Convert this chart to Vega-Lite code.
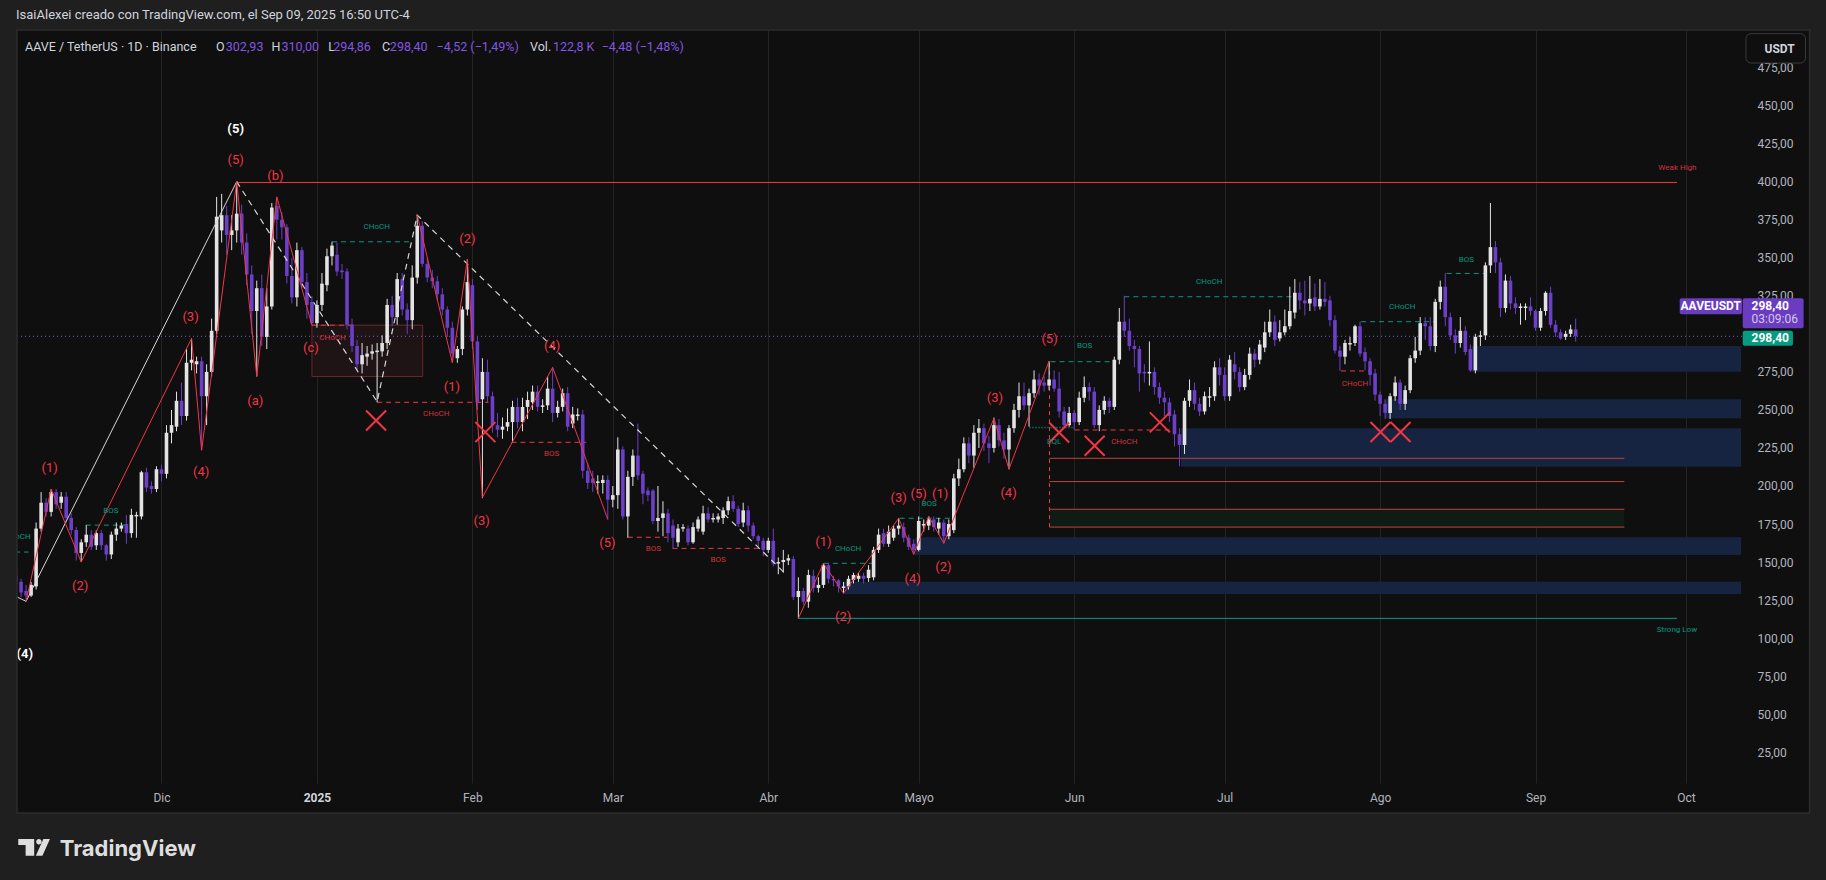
{
  "$schema": "https://vega.github.io/schema/vega-lite/v6.json",
  "width": 1734,
  "height": 753,
  "autosize": {"type": "none"},
  "padding": {"left": 12, "top": 30, "right": 80, "bottom": 97},
  "background": "#0f0f0f",
  "config": {"view": {"stroke": null}, "text": {"font": "Roboto"}},
  "datasets": {
    "candles": [
      {"date":"2024-11-02","open":141,"high":143,"low":135,"close":137},
      {"date":"2024-11-03","open":137,"high":139,"low":127,"close":130},
      {"date":"2024-11-04","open":131,"high":135,"low":124,"close":128},
      {"date":"2024-11-05","open":128,"high":137,"low":127,"close":135},
      {"date":"2024-11-06","open":134,"high":176,"low":132,"close":172},
      {"date":"2024-11-07","open":172,"high":196,"low":170,"close":189},
      {"date":"2024-11-08","open":189,"high":192,"low":180,"close":183},
      {"date":"2024-11-09","open":183,"high":198,"low":180,"close":196},
      {"date":"2024-11-10","open":196,"high":198,"low":185,"close":188},
      {"date":"2024-11-11","open":189,"high":196,"low":185,"close":193},
      {"date":"2024-11-12","open":193,"high":196,"low":176,"close":179},
      {"date":"2024-11-13","open":179,"high":182,"low":168,"close":171},
      {"date":"2024-11-14","open":171,"high":173,"low":151,"close":156},
      {"date":"2024-11-15","open":156,"high":165,"low":150,"close":163},
      {"date":"2024-11-16","open":163,"high":174.3,"low":160,"close":168},
      {"date":"2024-11-17","open":168,"high":171,"low":158,"close":160},
      {"date":"2024-11-18","open":161,"high":171,"low":158,"close":169},
      {"date":"2024-11-19","open":169,"high":171,"low":158,"close":161},
      {"date":"2024-11-20","open":161,"high":162,"low":151,"close":155},
      {"date":"2024-11-21","open":155,"high":170,"low":152,"close":168},
      {"date":"2024-11-22","open":168,"high":176,"low":164,"close":172},
      {"date":"2024-11-23","open":172,"high":176,"low":170,"close":174},
      {"date":"2024-11-24","open":175,"high":181,"low":162,"close":169},
      {"date":"2024-11-25","open":169,"high":185,"low":166,"close":181},
      {"date":"2024-11-26","open":180,"high":183,"low":166,"close":181},
      {"date":"2024-11-27","open":180,"high":210,"low":178,"close":209},
      {"date":"2024-11-28","open":209,"high":212,"low":196,"close":199},
      {"date":"2024-11-29","open":200,"high":203,"low":195,"close":198},
      {"date":"2024-11-30","open":198,"high":213,"low":196,"close":211},
      {"date":"2024-12-01","open":211,"high":214,"low":203,"close":208},
      {"date":"2024-12-02","open":208,"high":240,"low":205,"close":235},
      {"date":"2024-12-03","open":235,"high":250,"low":228,"close":240},
      {"date":"2024-12-04","open":239,"high":262,"low":236,"close":256},
      {"date":"2024-12-05","open":256,"high":268,"low":240,"close":246},
      {"date":"2024-12-06","open":246,"high":290,"low":243,"close":281},
      {"date":"2024-12-07","open":281,"high":297,"low":276,"close":283},
      {"date":"2024-12-08","open":280,"high":285,"low":274,"close":282},
      {"date":"2024-12-09","open":282,"high":285,"low":223.5,"close":259},
      {"date":"2024-12-10","open":259,"high":280,"low":240,"close":275},
      {"date":"2024-12-11","open":275,"high":310,"low":272,"close":302},
      {"date":"2024-12-12","open":302,"high":390,"low":300,"close":377},
      {"date":"2024-12-13","open":368,"high":392,"low":360,"close":378},
      {"date":"2024-12-14","open":378,"high":384,"low":352,"close":365},
      {"date":"2024-12-15","open":365,"high":378,"low":355,"close":368},
      {"date":"2024-12-16","open":368,"high":400,"low":360,"close":379},
      {"date":"2024-12-17","open":379,"high":385,"low":352,"close":360},
      {"date":"2024-12-18","open":360,"high":366,"low":332,"close":339},
      {"date":"2024-12-19","open":339,"high":345,"low":300,"close":315},
      {"date":"2024-12-20","open":315,"high":335,"low":272,"close":330},
      {"date":"2024-12-21","open":330,"high":339,"low":292,"close":298},
      {"date":"2024-12-22","open":298,"high":330,"low":290,"close":318},
      {"date":"2024-12-23","open":318,"high":386,"low":316,"close":383},
      {"date":"2024-12-24","open":384,"high":390,"low":362,"close":375},
      {"date":"2024-12-25","open":375,"high":380,"low":362,"close":370},
      {"date":"2024-12-26","open":370,"high":372,"low":333,"close":338},
      {"date":"2024-12-27","open":338,"high":350,"low":320,"close":324},
      {"date":"2024-12-28","open":324,"high":360,"low":318,"close":355},
      {"date":"2024-12-29","open":355,"high":357,"low":330,"close":334},
      {"date":"2024-12-30","open":334,"high":340,"low":310,"close":319},
      {"date":"2024-12-31","open":321,"high":325,"low":305.7,"close":307},
      {"date":"2025-01-01","open":307,"high":322,"low":304,"close":319},
      {"date":"2025-01-02","open":319,"high":340,"low":315,"close":333},
      {"date":"2025-01-03","open":332,"high":356,"low":328,"close":351},
      {"date":"2025-01-04","open":351,"high":360.5,"low":345,"close":358},
      {"date":"2025-01-05","open":352,"high":360,"low":338,"close":341},
      {"date":"2025-01-06","open":341.6,"high":346,"low":336,"close":340.5},
      {"date":"2025-01-07","open":341,"high":343,"low":303,"close":306},
      {"date":"2025-01-08","open":306,"high":310,"low":288,"close":292},
      {"date":"2025-01-09","open":292,"high":296,"low":276,"close":280},
      {"date":"2025-01-10","open":280,"high":294,"low":274,"close":286},
      {"date":"2025-01-11","open":285,"high":292,"low":279,"close":287},
      {"date":"2025-01-12","open":287,"high":293,"low":283,"close":288.5},
      {"date":"2025-01-13","open":288,"high":294,"low":255,"close":289},
      {"date":"2025-01-14","open":288.5,"high":299,"low":285,"close":294},
      {"date":"2025-01-15","open":294,"high":323,"low":290,"close":319},
      {"date":"2025-01-16","open":319,"high":325,"low":305,"close":311},
      {"date":"2025-01-17","open":311,"high":340,"low":306,"close":336},
      {"date":"2025-01-18","open":336,"high":340,"low":312,"close":316},
      {"date":"2025-01-19","open":316,"high":320,"low":300,"close":309},
      {"date":"2025-01-20","open":309,"high":345,"low":303,"close":337},
      {"date":"2025-01-21","open":337,"high":378,"low":333,"close":371},
      {"date":"2025-01-22","open":371,"high":374,"low":344,"close":346},
      {"date":"2025-01-23","open":346,"high":350,"low":334,"close":337},
      {"date":"2025-01-24","open":337,"high":342,"low":330,"close":334.5},
      {"date":"2025-01-25","open":334.5,"high":338,"low":322,"close":326},
      {"date":"2025-01-26","open":326,"high":330,"low":312,"close":316},
      {"date":"2025-01-27","open":316,"high":318,"low":298,"close":304},
      {"date":"2025-01-28","open":304,"high":308,"low":281,"close":287},
      {"date":"2025-01-29","open":284,"high":292,"low":281,"close":290},
      {"date":"2025-01-30","open":290,"high":318,"low":286,"close":316},
      {"date":"2025-01-31","open":316,"high":349,"low":312,"close":334},
      {"date":"2025-02-01","open":332,"high":336,"low":290,"close":295},
      {"date":"2025-02-02","open":295,"high":298,"low":250,"close":255},
      {"date":"2025-02-03","open":257,"high":284,"low":192,"close":275},
      {"date":"2025-02-04","open":275,"high":283,"low":255,"close":259},
      {"date":"2025-02-05","open":259,"high":262,"low":235,"close":240},
      {"date":"2025-02-06","open":240,"high":248,"low":232,"close":237},
      {"date":"2025-02-07","open":237,"high":245,"low":231,"close":239},
      {"date":"2025-02-08","open":239,"high":251,"low":236,"close":242},
      {"date":"2025-02-09","open":242,"high":256,"low":228.7,"close":252},
      {"date":"2025-02-10","open":252,"high":258,"low":238,"close":242},
      {"date":"2025-02-11","open":242,"high":258,"low":236,"close":252},
      {"date":"2025-02-12","open":252,"high":262,"low":244,"close":256.5},
      {"date":"2025-02-13","open":255,"high":266,"low":250,"close":262},
      {"date":"2025-02-14","open":262,"high":266,"low":249,"close":252},
      {"date":"2025-02-15","open":252,"high":257,"low":248,"close":253},
      {"date":"2025-02-16","open":253,"high":272,"low":250,"close":264},
      {"date":"2025-02-17","open":264,"high":278,"low":242,"close":248},
      {"date":"2025-02-18","open":248,"high":256,"low":245,"close":252},
      {"date":"2025-02-19","open":252,"high":264,"low":249,"close":261},
      {"date":"2025-02-20","open":261,"high":265,"low":236,"close":239},
      {"date":"2025-02-21","open":241,"high":252,"low":238,"close":247},
      {"date":"2025-02-22","open":246,"high":251,"low":243,"close":247},
      {"date":"2025-02-23","open":247,"high":250,"low":205,"close":210},
      {"date":"2025-02-24","open":210,"high":215,"low":198,"close":202},
      {"date":"2025-02-25","open":205,"high":210,"low":196,"close":202},
      {"date":"2025-02-26","open":202,"high":207,"low":195,"close":203},
      {"date":"2025-02-27","open":202,"high":207,"low":195,"close":204},
      {"date":"2025-02-28","open":204,"high":207,"low":178,"close":191},
      {"date":"2025-03-01","open":191,"high":200,"low":186,"close":194},
      {"date":"2025-03-02","open":194,"high":232,"low":185,"close":224},
      {"date":"2025-03-03","open":224,"high":226,"low":178,"close":180},
      {"date":"2025-03-04","open":180,"high":210,"low":166,"close":206},
      {"date":"2025-03-05","open":206,"high":224,"low":200,"close":220},
      {"date":"2025-03-06","open":220,"high":241,"low":204,"close":207},
      {"date":"2025-03-07","open":208,"high":210,"low":188,"close":195},
      {"date":"2025-03-08","open":197,"high":199,"low":190,"close":194},
      {"date":"2025-03-09","open":197,"high":198,"low":175,"close":177},
      {"date":"2025-03-10","open":177,"high":200,"low":170,"close":179},
      {"date":"2025-03-11","open":179,"high":190,"low":167,"close":182},
      {"date":"2025-03-12","open":182,"high":185,"low":163,"close":169},
      {"date":"2025-03-13","open":174,"high":178,"low":159,"close":166},
      {"date":"2025-03-14","open":163,"high":175,"low":160,"close":172},
      {"date":"2025-03-15","open":172,"high":175,"low":170,"close":173},
      {"date":"2025-03-16","open":172,"high":174,"low":161,"close":163},
      {"date":"2025-03-17","open":163,"high":176,"low":162,"close":173},
      {"date":"2025-03-18","open":172,"high":180,"low":170,"close":178},
      {"date":"2025-03-19","open":170,"high":187,"low":168,"close":182},
      {"date":"2025-03-20","open":182,"high":186,"low":176,"close":178},
      {"date":"2025-03-21","open":178,"high":182,"low":176,"close":179},
      {"date":"2025-03-22","open":178,"high":182,"low":176,"close":180},
      {"date":"2025-03-23","open":179,"high":186,"low":175,"close":184},
      {"date":"2025-03-24","open":184,"high":193,"low":181,"close":190},
      {"date":"2025-03-25","open":190,"high":194,"low":183,"close":185},
      {"date":"2025-03-26","open":185,"high":187,"low":173,"close":175},
      {"date":"2025-03-27","open":176,"high":189,"low":173,"close":184},
      {"date":"2025-03-28","open":184,"high":187,"low":170,"close":174},
      {"date":"2025-03-29","open":174,"high":176,"low":165,"close":167},
      {"date":"2025-03-30","open":167,"high":168,"low":160,"close":164},
      {"date":"2025-03-31","open":164,"high":166,"low":154,"close":158},
      {"date":"2025-04-01","open":158,"high":166,"low":156,"close":164},
      {"date":"2025-04-02","open":164,"high":172,"low":147,"close":149},
      {"date":"2025-04-03","open":149,"high":153,"low":142,"close":150},
      {"date":"2025-04-04","open":150,"high":158,"low":143,"close":151.4},
      {"date":"2025-04-05","open":151,"high":155,"low":148,"close":152.5},
      {"date":"2025-04-06","open":152,"high":154,"low":125,"close":127},
      {"date":"2025-04-07","open":127,"high":140,"low":113,"close":131},
      {"date":"2025-04-08","open":131,"high":133,"low":122,"close":124},
      {"date":"2025-04-09","open":124,"high":145,"low":120,"close":141.5},
      {"date":"2025-04-10","open":141,"high":145,"low":130,"close":133},
      {"date":"2025-04-11","open":133,"high":140,"low":130,"close":135},
      {"date":"2025-04-12","open":135,"high":149.2,"low":133,"close":148},
      {"date":"2025-04-13","open":148,"high":149,"low":136,"close":139},
      {"date":"2025-04-14","open":139,"high":141,"low":134,"close":138},
      {"date":"2025-04-15","open":138,"high":139,"low":130,"close":134},
      {"date":"2025-04-16","open":133,"high":137,"low":129.5,"close":134},
      {"date":"2025-04-17","open":134,"high":141,"low":132,"close":139},
      {"date":"2025-04-18","open":138.3,"high":143,"low":136,"close":141.5},
      {"date":"2025-04-19","open":139,"high":143,"low":137,"close":141},
      {"date":"2025-04-20","open":141,"high":143,"low":136,"close":139},
      {"date":"2025-04-21","open":139.5,"high":148,"low":137,"close":145},
      {"date":"2025-04-22","open":140,"high":160,"low":138,"close":158},
      {"date":"2025-04-23","open":158,"high":172,"low":156,"close":168},
      {"date":"2025-04-24","open":169,"high":172,"low":160,"close":162},
      {"date":"2025-04-25","open":162,"high":174,"low":160,"close":170},
      {"date":"2025-04-26","open":166,"high":174,"low":164,"close":172},
      {"date":"2025-04-27","open":172,"high":179,"low":168,"close":174},
      {"date":"2025-04-28","open":173,"high":176,"low":163,"close":166},
      {"date":"2025-04-29","open":166,"high":168,"low":158,"close":160},
      {"date":"2025-04-30","open":162,"high":165,"low":155,"close":158},
      {"date":"2025-05-01","open":158,"high":180,"low":157,"close":177},
      {"date":"2025-05-02","open":174,"high":178,"low":170,"close":175},
      {"date":"2025-05-03","open":174,"high":180,"low":171,"close":178},
      {"date":"2025-05-04","open":178,"high":180,"low":170,"close":173},
      {"date":"2025-05-05","open":172,"high":179,"low":168,"close":176},
      {"date":"2025-05-06","open":176,"high":178,"low":162,"close":167},
      {"date":"2025-05-07","open":167,"high":178,"low":165,"close":175},
      {"date":"2025-05-08","open":171,"high":208,"low":169,"close":205},
      {"date":"2025-05-09","open":205,"high":218,"low":200,"close":211},
      {"date":"2025-05-10","open":211,"high":232,"low":209,"close":228},
      {"date":"2025-05-11","open":228,"high":232,"low":215,"close":220},
      {"date":"2025-05-12","open":220,"high":240,"low":212,"close":235},
      {"date":"2025-05-13","open":235,"high":244,"low":225,"close":238},
      {"date":"2025-05-14","open":238,"high":241,"low":223,"close":228},
      {"date":"2025-05-15","open":228,"high":233,"low":215,"close":225},
      {"date":"2025-05-16","open":225,"high":245,"low":222,"close":240},
      {"date":"2025-05-17","open":240,"high":244,"low":226,"close":230},
      {"date":"2025-05-18","open":230,"high":235,"low":218,"close":224},
      {"date":"2025-05-19","open":224,"high":240,"low":211,"close":238},
      {"date":"2025-05-20","open":238,"high":254,"low":235,"close":250},
      {"date":"2025-05-21","open":250,"high":268,"low":245,"close":259},
      {"date":"2025-05-22","open":259,"high":268,"low":250,"close":253},
      {"date":"2025-05-23","open":253,"high":264,"low":239,"close":261},
      {"date":"2025-05-24","open":261,"high":276,"low":258,"close":270},
      {"date":"2025-05-25","open":270,"high":274,"low":260,"close":266},
      {"date":"2025-05-26","open":268,"high":272,"low":262,"close":266},
      {"date":"2025-05-27","open":266,"high":282,"low":263,"close":270},
      {"date":"2025-05-28","open":270,"high":276,"low":262,"close":264},
      {"date":"2025-05-29","open":264,"high":275,"low":245,"close":249},
      {"date":"2025-05-30","open":249,"high":252,"low":238,"close":240},
      {"date":"2025-05-31","open":240,"high":252,"low":239,"close":248},
      {"date":"2025-06-01","open":248,"high":250,"low":237,"close":242},
      {"date":"2025-06-02","open":242,"high":262,"low":240,"close":258},
      {"date":"2025-06-03","open":258,"high":272,"low":255,"close":265},
      {"date":"2025-06-04","open":265,"high":268,"low":256,"close":262},
      {"date":"2025-06-05","open":262,"high":265,"low":238,"close":240},
      {"date":"2025-06-06","open":240,"high":253,"low":236,"close":250},
      {"date":"2025-06-07","open":250,"high":259,"low":247,"close":256},
      {"date":"2025-06-08","open":256,"high":258,"low":248,"close":252},
      {"date":"2025-06-09","open":252,"high":285,"low":250,"close":283},
      {"date":"2025-06-10","open":283,"high":317,"low":280,"close":308},
      {"date":"2025-06-11","open":308,"high":325,"low":298,"close":302},
      {"date":"2025-06-12","open":302,"high":310,"low":289,"close":292},
      {"date":"2025-06-13","open":292,"high":296,"low":278,"close":290},
      {"date":"2025-06-14","open":290,"high":292,"low":262,"close":274},
      {"date":"2025-06-15","open":275,"high":280,"low":268,"close":274},
      {"date":"2025-06-16","open":274,"high":295,"low":266,"close":275},
      {"date":"2025-06-17","open":275,"high":278,"low":260,"close":265},
      {"date":"2025-06-18","open":265,"high":268,"low":254,"close":258},
      {"date":"2025-06-19","open":258,"high":262,"low":246,"close":255},
      {"date":"2025-06-20","open":255,"high":258,"low":242,"close":246},
      {"date":"2025-06-21","open":247,"high":250,"low":226,"close":234},
      {"date":"2025-06-22","open":234,"high":238,"low":213,"close":227},
      {"date":"2025-06-23","open":227,"high":258,"low":221,"close":256},
      {"date":"2025-06-24","open":256,"high":270,"low":252,"close":263},
      {"date":"2025-06-25","open":263,"high":268,"low":250,"close":254},
      {"date":"2025-06-26","open":254,"high":258,"low":246,"close":249},
      {"date":"2025-06-27","open":249,"high":262,"low":247,"close":259},
      {"date":"2025-06-28","open":258,"high":265,"low":252,"close":259},
      {"date":"2025-06-29","open":259,"high":282,"low":256,"close":278},
      {"date":"2025-06-30","open":278,"high":284,"low":266,"close":273},
      {"date":"2025-07-01","open":273,"high":278,"low":256,"close":259},
      {"date":"2025-07-02","open":259,"high":286,"low":256,"close":283},
      {"date":"2025-07-03","open":280,"high":288,"low":270,"close":275},
      {"date":"2025-07-04","open":275,"high":278,"low":262,"close":265},
      {"date":"2025-07-05","open":265,"high":277,"low":263,"close":273},
      {"date":"2025-07-06","open":273,"high":291,"low":270,"close":287},
      {"date":"2025-07-07","open":287,"high":290,"low":278,"close":283},
      {"date":"2025-07-08","open":283,"high":296,"low":280,"close":293},
      {"date":"2025-07-09","open":291,"high":308,"low":288,"close":301},
      {"date":"2025-07-10","open":301,"high":316,"low":298,"close":308},
      {"date":"2025-07-11","open":308,"high":312,"low":292,"close":296},
      {"date":"2025-07-12","open":297,"high":309,"low":295,"close":301},
      {"date":"2025-07-13","open":301,"high":316,"low":299,"close":305},
      {"date":"2025-07-14","open":305,"high":331,"low":303,"close":315},
      {"date":"2025-07-15","open":314,"high":336,"low":310,"close":327},
      {"date":"2025-07-16","open":327,"high":334,"low":316,"close":322},
      {"date":"2025-07-17","open":322,"high":335,"low":312,"close":320},
      {"date":"2025-07-18","open":320,"high":338,"low":315,"close":323},
      {"date":"2025-07-19","open":324,"high":333,"low":315,"close":318},
      {"date":"2025-07-20","open":318,"high":336,"low":316,"close":323},
      {"date":"2025-07-21","open":323,"high":334,"low":318,"close":321},
      {"date":"2025-07-22","open":322,"high":325,"low":305,"close":309},
      {"date":"2025-07-23","open":309,"high":312,"low":287,"close":289},
      {"date":"2025-07-24","open":289,"high":292,"low":275.6,"close":285},
      {"date":"2025-07-25","open":285,"high":296,"low":280,"close":294},
      {"date":"2025-07-26","open":293,"high":298,"low":289,"close":294},
      {"date":"2025-07-27","open":294,"high":306,"low":292,"close":305},
      {"date":"2025-07-28","open":305,"high":308,"low":285,"close":287},
      {"date":"2025-07-29","open":288,"high":291,"low":276,"close":282},
      {"date":"2025-07-30","open":282,"high":284,"low":266,"close":273},
      {"date":"2025-07-31","open":274,"high":277,"low":256,"close":260},
      {"date":"2025-08-01","open":260,"high":262,"low":246,"close":254},
      {"date":"2025-08-02","open":254,"high":257,"low":244,"close":248},
      {"date":"2025-08-03","open":248,"high":261,"low":244,"close":259},
      {"date":"2025-08-04","open":259,"high":272,"low":256,"close":268},
      {"date":"2025-08-05","open":268,"high":270,"low":250,"close":254},
      {"date":"2025-08-06","open":254,"high":266,"low":250,"close":263},
      {"date":"2025-08-07","open":263,"high":286,"low":261,"close":284},
      {"date":"2025-08-08","open":284,"high":298,"low":281,"close":289},
      {"date":"2025-08-09","open":289,"high":311,"low":286,"close":307},
      {"date":"2025-08-10","open":307,"high":311,"low":296,"close":305},
      {"date":"2025-08-11","open":305,"high":311,"low":289,"close":292},
      {"date":"2025-08-12","open":292,"high":323,"low":288,"close":321},
      {"date":"2025-08-13","open":321,"high":335,"low":316,"close":331},
      {"date":"2025-08-14","open":331,"high":340,"low":305,"close":311},
      {"date":"2025-08-15","open":311,"high":314,"low":296,"close":299},
      {"date":"2025-08-16","open":299,"high":303,"low":287,"close":294},
      {"date":"2025-08-17","open":294,"high":311,"low":291,"close":302},
      {"date":"2025-08-18","open":302,"high":305,"low":286,"close":288},
      {"date":"2025-08-19","open":290,"high":293,"low":275,"close":276},
      {"date":"2025-08-20","open":276,"high":300,"low":274,"close":298},
      {"date":"2025-08-21","open":298,"high":302,"low":292,"close":299},
      {"date":"2025-08-22","open":299,"high":347,"low":296,"close":345},
      {"date":"2025-08-23","open":345,"high":386,"low":340,"close":357},
      {"date":"2025-08-24","open":357,"high":361,"low":340,"close":347},
      {"date":"2025-08-25","open":347,"high":350,"low":311,"close":317},
      {"date":"2025-08-26","open":317,"high":339,"low":314,"close":335},
      {"date":"2025-08-27","open":335,"high":338,"low":316,"close":320},
      {"date":"2025-08-28","open":320,"high":324,"low":313,"close":317},
      {"date":"2025-08-29","open":317,"high":320,"low":306,"close":318},
      {"date":"2025-08-30","open":317,"high":320,"low":309,"close":318},
      {"date":"2025-08-31","open":318,"high":324,"low":312,"close":315},
      {"date":"2025-09-01","open":315,"high":316,"low":302,"close":304},
      {"date":"2025-09-02","open":304,"high":317,"low":302,"close":315},
      {"date":"2025-09-03","open":315,"high":328,"low":312,"close":327},
      {"date":"2025-09-04","open":327,"high":331,"low":304,"close":306},
      {"date":"2025-09-05","open":306,"high":309,"low":298,"close":301},
      {"date":"2025-09-06","open":301,"high":303,"low":296,"close":297},
      {"date":"2025-09-07","open":298,"high":302,"low":296,"close":300},
      {"date":"2025-09-08","open":300,"high":306,"low":298,"close":302.93},
      {"date":"2025-09-09","open":302.93,"high":310,"low":294.86,"close":298.4}
    ],
    "zones": [
      {"start":"2025-04-16T02:00:00Z","end":"2025-10-12T00:00:00Z","bottom":129,"top":137.1},
      {"start":"2025-04-30T07:00:00Z","end":"2025-10-12T00:00:00Z","bottom":154.7,"top":166.3},
      {"start":"2025-06-22T07:00:00Z","end":"2025-10-12T00:00:00Z","bottom":212.7,"top":237.9},
      {"start":"2025-08-02T00:00:00Z","end":"2025-10-12T00:00:00Z","bottom":244.5,"top":257},
      {"start":"2025-08-19T05:00:00Z","end":"2025-10-12T00:00:00Z","bottom":275.1,"top":292}
    ],
    "boxes": [
      {"start":"2024-12-31T00:00:00Z","end":"2025-01-22T02:00:00Z","bottom":272,"top":305.7}
    ],
    "fibZone": [
      {"start":"2025-05-27T02:00:00Z","end":"2025-09-18T17:00:00Z","bottom":173,"top":184.7}
    ],
    "fib": [
      {"start":"2025-05-27T02:00:00Z","end":"2025-09-18T17:00:00Z","price":218.2},
      {"start":"2025-05-27T02:00:00Z","end":"2025-09-18T17:00:00Z","price":202.9},
      {"start":"2025-05-27T02:00:00Z","end":"2025-09-18T17:00:00Z","price":184.7},
      {"start":"2025-05-27T02:00:00Z","end":"2025-09-18T17:00:00Z","price":173}
    ],
    "structure": [
      {"type":"CHoCH","side":"bull","start":"2024-10-31T00:00:00Z","end":"2024-11-04T12:00:00Z","price":156.6},
      {"type":"BOS","side":"bull","start":"2024-11-15T22:00:00Z","end":"2024-11-24T00:00:00Z","price":174.3},
      {"type":"CHoCH","side":"bull","start":"2025-01-04T00:00:00Z","end":"2025-01-20T00:00:00Z","price":360.5},
      {"type":"CHoCH","side":"bull","start":"2025-04-12T02:00:00Z","end":"2025-04-21T17:00:00Z","price":149.2},
      {"type":"BOS","side":"bull","start":"2025-04-27T05:00:00Z","end":"2025-05-07T22:00:00Z","price":178.8},
      {"type":"BOS","side":"bull","start":"2025-05-27T07:00:00Z","end":"2025-06-09T10:00:00Z","price":281.7},
      {"type":"CHoCH","side":"bull","start":"2025-06-11T00:00:00Z","end":"2025-07-15T02:00:00Z","price":324.4},
      {"type":"CHoCH","side":"bull","start":"2025-07-28T05:00:00Z","end":"2025-08-12T00:00:00Z","price":308},
      {"type":"BOS","side":"bull","start":"2025-08-14T07:00:00Z","end":"2025-08-21T22:00:00Z","price":339.7},
      {"type":"CHoCH","side":"bear","start":"2024-12-31T00:00:00Z","end":"2025-01-08T10:00:00Z","price":305.7},
      {"type":"CHoCH","side":"bear","start":"2025-01-13T00:00:00Z","end":"2025-02-04T05:00:00Z","price":255},
      {"type":"BOS","side":"bear","start":"2025-02-08T19:00:00Z","end":"2025-02-23T17:00:00Z","price":228.7},
      {"type":"BOS","side":"bear","start":"2025-03-04T00:00:00Z","end":"2025-03-11T22:00:00Z","price":166.3},
      {"type":"BOS","side":"bear","start":"2025-03-12T22:00:00Z","end":"2025-03-30T19:00:00Z","price":159},
      {"type":"CHoCH","side":"bear","start":"2025-06-01T02:00:00Z","end":"2025-06-21T07:00:00Z","price":236.8},
      {"type":"CHoCH","side":"bear","start":"2025-07-24T05:00:00Z","end":"2025-07-29T19:00:00Z","price":275.6},
      {"type":"EQL","side":"bull","start":"2025-05-23T02:00:00Z","end":"2025-06-01T02:00:00Z","price":238.5}
    ],
    "verticals": [
      {"date":"2025-05-27T02:00:00Z","low":173,"high":282}
    ],
    "levels": [
      {"name":"Weak High","side":"bear","start":"2024-12-16T00:00:00Z","end":"2025-09-29T05:00:00Z","price":399.5},
      {"name":"Strong Low","side":"bull","start":"2025-04-07T00:00:00Z","end":"2025-09-29T05:00:00Z","price":113}
    ],
    "waves": [
      {"wave":"primary","date":"2024-10-31T00:00:00Z","price":130.5},
      {"wave":"primary","date":"2024-11-04T00:00:00Z","price":124.2},
      {"wave":"primary","date":"2024-12-16T00:00:00Z","price":400},
      {"wave":"primary-path","date":"2024-12-16T00:00:00Z","price":400},
      {"wave":"primary-path","date":"2025-01-13T00:00:00Z","price":255.4},
      {"wave":"primary-path","date":"2025-01-21T00:00:00Z","price":378},
      {"wave":"primary-path","date":"2025-04-04T05:00:00Z","price":143},
      {"wave":"minor-1","date":"2024-11-04T00:00:00Z","price":124.2},
      {"wave":"minor-1","date":"2024-11-09T00:00:00Z","price":198},
      {"wave":"minor-1","date":"2024-11-15T00:00:00Z","price":150},
      {"wave":"minor-1","date":"2024-12-07T00:00:00Z","price":297},
      {"wave":"minor-1","date":"2024-12-09T00:00:00Z","price":223.5},
      {"wave":"minor-1","date":"2024-12-16T00:00:00Z","price":400},
      {"wave":"minor-1","date":"2024-12-20T00:00:00Z","price":272},
      {"wave":"minor-1","date":"2024-12-24T00:00:00Z","price":390},
      {"wave":"minor-1","date":"2024-12-31T00:00:00Z","price":305.7},
      {"wave":"minor-2","date":"2025-01-21T00:00:00Z","price":378},
      {"wave":"minor-2","date":"2025-01-28T00:00:00Z","price":281},
      {"wave":"minor-2","date":"2025-01-31T00:00:00Z","price":349},
      {"wave":"minor-2","date":"2025-02-03T00:00:00Z","price":192.5},
      {"wave":"minor-2","date":"2025-02-17T00:00:00Z","price":278},
      {"wave":"minor-2","date":"2025-02-28T00:00:00Z","price":178},
      {"wave":"minor-3","date":"2025-04-07T00:00:00Z","price":113},
      {"wave":"minor-3","date":"2025-04-12T00:00:00Z","price":149.2},
      {"wave":"minor-3","date":"2025-04-16T00:00:00Z","price":129.5},
      {"wave":"minor-3","date":"2025-04-27T00:00:00Z","price":178.8},
      {"wave":"minor-3","date":"2025-04-30T00:00:00Z","price":155},
      {"wave":"minor-3","date":"2025-05-03T00:00:00Z","price":180},
      {"wave":"minor-3","date":"2025-05-06T00:00:00Z","price":162.4},
      {"wave":"minor-3","date":"2025-05-16T00:00:00Z","price":244.5},
      {"wave":"minor-3","date":"2025-05-19T00:00:00Z","price":211},
      {"wave":"minor-3","date":"2025-05-27T00:00:00Z","price":282.2}
    ],
    "invalidations": [
      {"date":"2025-01-12T19:00:00Z","price":243},
      {"date":"2025-02-03T14:00:00Z","price":235.4},
      {"date":"2025-05-29T00:00:00Z","price":235.2},
      {"date":"2025-06-05T02:00:00Z","price":226.5},
      {"date":"2025-06-18T02:00:00Z","price":241.8},
      {"date":"2025-08-01T02:00:00Z","price":235.5},
      {"date":"2025-08-05T02:00:00Z","price":235.5}
    ],
    "labels": [
      {"group":"primary","text":"(5)","date":"2024-12-15T19:00:00Z","price":434.5},
      {"group":"primary","text":"(4)","date":"2024-11-03T18:00:00Z","price":89.5},
      {"group":"minor","text":"(5)","date":"2024-12-15T19:00:00Z","price":414},
      {"group":"minor","text":"(b)","date":"2024-12-23T17:00:00Z","price":404},
      {"group":"minor","text":"(3)","date":"2024-12-06T19:00:00Z","price":311},
      {"group":"minor","text":"(4)","date":"2024-12-08T22:00:00Z","price":209},
      {"group":"minor","text":"(a)","date":"2024-12-19T17:00:00Z","price":256},
      {"group":"minor","text":"(c)","date":"2024-12-30T19:00:00Z","price":291},
      {"group":"minor","text":"(1)","date":"2024-11-08T17:00:00Z","price":212},
      {"group":"minor","text":"(2)","date":"2024-11-14T19:00:00Z","price":134.4},
      {"group":"minor","text":"(1)","date":"2025-01-27T22:00:00Z","price":265.3},
      {"group":"minor","text":"(2)","date":"2025-01-31T00:00:00Z","price":362.5},
      {"group":"minor","text":"(3)","date":"2025-02-02T20:00:00Z","price":177},
      {"group":"minor","text":"(4)","date":"2025-02-16T22:00:00Z","price":292.2},
      {"group":"minor","text":"(5)","date":"2025-02-27T22:00:00Z","price":162.8},
      {"group":"minor","text":"(1)","date":"2025-04-12T00:00:00Z","price":163},
      {"group":"minor","text":"(2)","date":"2025-04-15T22:00:00Z","price":114},
      {"group":"minor","text":"(3)","date":"2025-04-27T00:00:00Z","price":191.9},
      {"group":"minor","text":"(5)","date":"2025-05-01T00:00:00Z","price":194.8},
      {"group":"minor","text":"(1)","date":"2025-05-05T07:00:00Z","price":194.8},
      {"group":"minor","text":"(4)","date":"2025-04-29T19:00:00Z","price":138.9},
      {"group":"minor","text":"(2)","date":"2025-05-05T22:00:00Z","price":147},
      {"group":"minor","text":"(3)","date":"2025-05-16T05:00:00Z","price":257.7},
      {"group":"minor","text":"(4)","date":"2025-05-18T22:00:00Z","price":195.2},
      {"group":"minor","text":"(5)","date":"2025-05-27T02:00:00Z","price":296.6},
      {"group":"bull","text":"CHoCH","date":"2024-11-02T07:00:00Z","price":166.3},
      {"group":"bull","text":"BOS","date":"2024-11-20T22:00:00Z","price":183.8},
      {"group":"bull","text":"CHoCH","date":"2025-01-12T22:00:00Z","price":370.5},
      {"group":"bull","text":"CHoCH","date":"2025-04-16T22:00:00Z","price":158.6},
      {"group":"bull","text":"BOS","date":"2025-05-03T02:00:00Z","price":188},
      {"group":"bull","text":"BOS","date":"2025-06-03T02:00:00Z","price":292},
      {"group":"bull","text":"CHoCH","date":"2025-06-27T22:00:00Z","price":334.3},
      {"group":"bull","text":"CHoCH","date":"2025-08-05T10:00:00Z","price":317.8},
      {"group":"bull","text":"BOS","date":"2025-08-18T05:00:00Z","price":348.5},
      {"group":"bull","text":"EQL","date":"2025-05-28T00:00:00Z","price":228.7},
      {"group":"bull","text":"Strong Low","date":"2025-09-29T05:00:00Z","price":105.1},
      {"group":"bear","text":"CHoCH","date":"2025-01-04T02:00:00Z","price":297.2},
      {"group":"bear","text":"CHoCH","date":"2025-01-24T19:00:00Z","price":247},
      {"group":"bear","text":"BOS","date":"2025-02-16T19:00:00Z","price":221},
      {"group":"bear","text":"BOS","date":"2025-03-09T02:00:00Z","price":158.6},
      {"group":"bear","text":"BOS","date":"2025-03-22T00:00:00Z","price":151.4},
      {"group":"bear","text":"CHoCH","date":"2025-06-11T00:00:00Z","price":228.7},
      {"group":"bear","text":"CHoCH","date":"2025-07-27T00:00:00Z","price":267},
      {"group":"bear","text":"Weak High","date":"2025-09-29T07:00:00Z","price":408.8}
    ],
    "quote": [
      {"part":"label","text":"AAVE / TetherUS · 1D · Binance","date":"2024-11-03T18:43:00Z"},
      {"part":"label","text":"O","date":"2024-12-11T20:24:00Z"},
      {"part":"value","text":"302,93","date":"2024-12-13T19:55:00Z"},
      {"part":"label","text":"H","date":"2024-12-22T22:48:00Z"},
      {"part":"value","text":"310,00","date":"2024-12-24T22:19:00Z"},
      {"part":"label","text":"L","date":"2025-01-03T06:00:00Z"},
      {"part":"value","text":"294,86","date":"2025-01-04T05:46:00Z"},
      {"part":"label","text":"C","date":"2025-01-13T22:48:00Z"},
      {"part":"value","text":"298,40","date":"2025-01-15T12:58:00Z"},
      {"part":"value","text":"−4,52 (−1,49%)","date":"2025-01-24T20:38:00Z"},
      {"part":"label","text":"Vol.","date":"2025-02-12T12:00:00Z"},
      {"part":"value","text":"122,8 K","date":"2025-02-17T01:26:00Z"},
      {"part":"value","text":"−4,48 (−1,48%)","date":"2025-02-26T18:29:00Z"}
    ]
  },
  "layer": [
    {
      "data": {"name": "zones"},
      "mark": {"type": "rect", "color": "#172441"},
      "encoding": {
        "x": {"field": "start", "type": "temporal",
          "scale": {"type": "utc", "nice": false, "domain": [{"year": 2024, "month": 11, "date": 2, "hours": 4, "minutes": 34, "utc": true}, {"year": 2025, "month": 10, "date": 11, "hours": 23, "minutes": 17, "utc": true}]},
          "axis": {"title": null, "orient": "bottom", "grid": true, "gridColor": "#232323", "gridWidth": 1, "ticks": false, "domain": false,
            "values": [{"year": 2024, "month": 12, "date": 1, "utc": true}, {"year": 2025, "month": 1, "date": 1, "utc": true}, {"year": 2025, "month": 2, "date": 1, "utc": true}, {"year": 2025, "month": 3, "date": 1, "utc": true}, {"year": 2025, "month": 4, "date": 1, "utc": true}, {"year": 2025, "month": 5, "date": 1, "utc": true}, {"year": 2025, "month": 6, "date": 1, "utc": true}, {"year": 2025, "month": 7, "date": 1, "utc": true}, {"year": 2025, "month": 8, "date": 1, "utc": true}, {"year": 2025, "month": 9, "date": 1, "utc": true}, {"year": 2025, "month": 10, "date": 1, "utc": true}],
            "labelExpr": "utcmonth(datum.value) == 0 ? utcFormat(datum.value, '%Y') : ['Ene','Feb','Mar','Abr','Mayo','Jun','Jul','Ago','Sep','Oct','Nov','Dic'][utcmonth(datum.value)]",
            "labelColor": {"condition": {"test": "utcmonth(datum.value) == 0", "value": "#d1d4dc"}, "value": "#b2b5be"},
            "labelFontWeight": {"condition": {"test": "utcmonth(datum.value) == 0", "value": "bold"}, "value": "normal"},
            "labelFont": "Roboto", "labelFontSize": 12, "labelPadding": 9, "labelFlush": false, "labelOverlap": false, "labelBound": false}},
        "x2": {"field": "end"},
        "y": {"field": "bottom", "type": "quantitative",
          "scale": {"domain": [4.8, 499.7], "nice": false, "zero": false},
          "axis": {"title": null, "orient": "right", "grid": false, "ticks": false, "domain": false,
            "values": [25, 50, 75, 100, 125, 150, 175, 200, 225, 250, 275, 325, 350, 375, 400, 425, 450, 475],
            "labelExpr": "replace(format(datum.value, '.2f'), '.', ',')",
            "labelColor": "#b2b5be", "labelFont": "Roboto", "labelFontSize": 12, "labelPadding": 11, "labelBaseline": "middle", "labelFlush": false, "labelOverlap": false, "labelBound": false}},
        "y2": {"field": "top"}
      }
    },
    {
      "data": {"name": "boxes"},
      "mark": {"type": "rect", "fill": "#1e1416", "stroke": "#6b2a2e", "strokeWidth": 1},
      "encoding": {"x": {"field": "start", "type": "temporal"}, "x2": {"field": "end"}, "y": {"field": "bottom", "type": "quantitative"}, "y2": {"field": "top"}}
    },
    {
      "data": {"name": "fibZone"},
      "mark": {"type": "rect", "fill": "#0f1b13"},
      "encoding": {"x": {"field": "start", "type": "temporal"}, "x2": {"field": "end"}, "y": {"field": "bottom", "type": "quantitative"}, "y2": {"field": "top"}}
    },
    {
      "data": {"name": "fib"},
      "mark": {"type": "rule", "color": "#c0443f", "strokeWidth": 1},
      "encoding": {"x": {"field": "start", "type": "temporal"}, "x2": {"field": "end"}, "y": {"field": "price", "type": "quantitative"}}
    },
    {
      "data": {"values": [{}]},
      "mark": {"type": "rule", "color": "#7e57c2", "strokeDash": [1, 3], "strokeWidth": 1},
      "encoding": {"y": {"datum": 298.4, "type": "quantitative"}}
    },
    {
      "data": {"name": "structure"},
      "transform": [{"filter": "datum.type != 'EQL'"}],
      "mark": {"type": "rule", "strokeDash": [5, 4], "strokeWidth": 1},
      "encoding": {"x": {"field": "start", "type": "temporal"}, "x2": {"field": "end"}, "y": {"field": "price", "type": "quantitative"},
        "color": {"condition": {"test": "datum.side == 'bull'", "value": "#089981"}, "value": "#f23645"}}
    },
    {
      "data": {"name": "structure"},
      "transform": [{"filter": "datum.type == 'EQL'"}],
      "mark": {"type": "rule", "color": "#089981", "strokeDash": [1, 2], "strokeWidth": 1.5},
      "encoding": {"x": {"field": "start", "type": "temporal"}, "x2": {"field": "end"}, "y": {"field": "price", "type": "quantitative"}}
    },
    {
      "data": {"name": "verticals"},
      "mark": {"type": "rule", "color": "#f23645", "strokeDash": [4, 4], "strokeWidth": 1},
      "encoding": {"x": {"field": "date", "type": "temporal"}, "y": {"field": "low", "type": "quantitative"}, "y2": {"field": "high"}}
    },
    {
      "data": {"name": "levels"},
      "mark": {"type": "rule", "strokeWidth": 1},
      "encoding": {"x": {"field": "start", "type": "temporal"}, "x2": {"field": "end"}, "y": {"field": "price", "type": "quantitative"},
        "color": {"condition": {"test": "datum.side == 'bull'", "value": "#089981"}, "value": "#f23645"}}
    },
    {
      "data": {"name": "candles"},
      "mark": {"type": "rule", "strokeWidth": 1},
      "encoding": {"x": {"field": "date", "type": "temporal"}, "y": {"field": "low", "type": "quantitative"}, "y2": {"field": "high"},
        "color": {"condition": {"test": "datum.close >= datum.open", "value": "#e3e3e3"}, "value": "#6b3fc8"}}
    },
    {
      "data": {"name": "candles"},
      "mark": {"type": "bar", "size": 3.6, "minBandSize": 1},
      "encoding": {"x": {"field": "date", "type": "temporal"}, "y": {"field": "open", "type": "quantitative"}, "y2": {"field": "close"},
        "color": {"condition": {"test": "datum.close >= datum.open", "value": "#e3e3e3"}, "value": "#6b3fc8"}}
    },
    {
      "data": {"name": "waves"},
      "transform": [{"filter": "datum.wave == 'primary'"}],
      "mark": {"type": "line", "color": "#d6d6d6", "strokeWidth": 1},
      "encoding": {"x": {"field": "date", "type": "temporal"}, "y": {"field": "price", "type": "quantitative"}}
    },
    {
      "data": {"name": "waves"},
      "transform": [{"filter": "datum.wave == 'primary-path'"}],
      "mark": {"type": "line", "color": "#d6d6d6", "strokeWidth": 1.2, "strokeDash": [6, 5]},
      "encoding": {"x": {"field": "date", "type": "temporal"}, "y": {"field": "price", "type": "quantitative"}}
    },
    {
      "data": {"name": "waves"},
      "transform": [{"filter": "indexof(datum.wave, 'minor') == 0"}],
      "mark": {"type": "line", "color": "#f23645", "strokeWidth": 1},
      "encoding": {"x": {"field": "date", "type": "temporal"}, "y": {"field": "price", "type": "quantitative"}, "detail": {"field": "wave"}}
    },
    {
      "data": {"name": "invalidations"},
      "mark": {"type": "point", "shape": "M-1,-1L1,1M-1,1L1,-1", "size": 400, "filled": false, "stroke": "#f23645", "strokeWidth": 2, "opacity": 1},
      "encoding": {"x": {"field": "date", "type": "temporal"}, "y": {"field": "price", "type": "quantitative"}}
    },
    {
      "data": {"name": "labels"},
      "transform": [{"filter": "datum.group == 'minor'"}],
      "mark": {"type": "text", "color": "#f23645", "fontSize": 13, "font": "Roboto", "baseline": "middle", "align": "center"},
      "encoding": {"x": {"field": "date", "type": "temporal"}, "y": {"field": "price", "type": "quantitative"}, "text": {"field": "text"}}
    },
    {
      "data": {"name": "labels"},
      "transform": [{"filter": "datum.group == 'primary'"}],
      "mark": {"type": "text", "color": "#ffffff", "fontSize": 13, "fontWeight": "bold", "font": "Roboto", "baseline": "middle", "align": "center"},
      "encoding": {"x": {"field": "date", "type": "temporal"}, "y": {"field": "price", "type": "quantitative"}, "text": {"field": "text"}}
    },
    {
      "data": {"name": "labels"},
      "transform": [{"filter": "datum.group == 'bull'"}],
      "mark": {"type": "text", "color": "#089981", "fontSize": 8, "font": "Roboto", "baseline": "middle", "align": "center"},
      "encoding": {"x": {"field": "date", "type": "temporal"}, "y": {"field": "price", "type": "quantitative"}, "text": {"field": "text"}}
    },
    {
      "data": {"name": "labels"},
      "transform": [{"filter": "datum.group == 'bear'"}],
      "mark": {"type": "text", "color": "#d2323f", "fontSize": 8, "font": "Roboto", "baseline": "middle", "align": "center"},
      "encoding": {"x": {"field": "date", "type": "temporal"}, "y": {"field": "price", "type": "quantitative"}, "text": {"field": "text"}}
    },
    {
      "data": {"name": "quote"},
      "mark": {"type": "text", "fontSize": 12.5, "font": "Roboto", "baseline": "middle", "align": "left"},
      "encoding": {"x": {"field": "date", "type": "temporal"}, "y": {"datum": 488.5, "type": "quantitative"}, "text": {"field": "text"},
        "color": {"condition": {"test": "datum.part == 'label'", "value": "#d1d4dc"}, "value": "#8257e0"}}
    },
    {
      "data": {"values": [{}]},
      "mark": {"type": "rect", "fill": "#6a3cc0", "cornerRadius": 2},
      "encoding": {"x": {"datum": {"year": 2025, "month": 9, "date": 29, "hours": 17, "minutes": 45, "utc": true}, "type": "temporal"}, "x2": {"datum": {"year": 2025, "month": 10, "date": 12, "hours": 4, "utc": true}}, "y": {"datum": 312.9, "type": "quantitative"}, "y2": {"datum": 323.4}}
    },
    {
      "data": {"values": [{}]},
      "mark": {"type": "text", "text": "AAVEUSDT", "color": "#ffffff", "fontSize": 12, "fontWeight": "bold", "font": "Roboto", "align": "center", "baseline": "middle"},
      "encoding": {"x": {"datum": {"year": 2025, "month": 10, "date": 5, "hours": 22, "minutes": 30, "utc": true}, "type": "temporal"}, "y": {"datum": 318.1, "type": "quantitative"}}
    },
    {
      "data": {"values": [{}]},
      "mark": {"type": "rect", "fill": "#6a3cc0", "cornerRadius": 2},
      "encoding": {"x": {"datum": {"year": 2025, "month": 10, "date": 12, "hours": 7, "minutes": 30, "utc": true}, "type": "temporal"}, "x2": {"datum": {"year": 2025, "month": 10, "date": 24, "hours": 11, "utc": true}}, "y": {"datum": 303.7, "type": "quantitative"}, "y2": {"datum": 323.4}}
    },
    {
      "data": {"values": [{}]},
      "mark": {"type": "text", "text": "298,40", "color": "#ffffff", "fontSize": 12, "fontWeight": "bold", "font": "Roboto", "align": "left", "baseline": "middle"},
      "encoding": {"x": {"datum": {"year": 2025, "month": 10, "date": 14, "hours": 2, "utc": true}, "type": "temporal"}, "y": {"datum": 318.3, "type": "quantitative"}}
    },
    {
      "data": {"values": [{}]},
      "mark": {"type": "text", "text": "03:09:06", "color": "#d4c8f2", "fontSize": 12, "font": "Roboto", "align": "left", "baseline": "middle"},
      "encoding": {"x": {"datum": {"year": 2025, "month": 10, "date": 14, "hours": 2, "utc": true}, "type": "temporal"}, "y": {"datum": 309.6, "type": "quantitative"}}
    },
    {
      "data": {"values": [{}]},
      "mark": {"type": "rect", "fill": "#089981", "cornerRadius": 2},
      "encoding": {"x": {"datum": {"year": 2025, "month": 10, "date": 12, "hours": 7, "minutes": 30, "utc": true}, "type": "temporal"}, "x2": {"datum": {"year": 2025, "month": 10, "date": 22, "hours": 8, "utc": true}}, "y": {"datum": 292.2, "type": "quantitative"}, "y2": {"datum": 302.1}}
    },
    {
      "data": {"values": [{}]},
      "mark": {"type": "text", "text": "298,40", "color": "#ffffff", "fontSize": 12, "fontWeight": "bold", "font": "Roboto", "align": "left", "baseline": "middle"},
      "encoding": {"x": {"datum": {"year": 2025, "month": 10, "date": 14, "hours": 2, "utc": true}, "type": "temporal"}, "y": {"datum": 297.3, "type": "quantitative"}}
    },
    {
      "data": {"values": [{}]},
      "mark": {"type": "rect", "fill": "#0f0f0f", "stroke": "#3a3a3a", "strokeWidth": 1, "cornerRadius": 5},
      "encoding": {"x": {"datum": {"year": 2025, "month": 10, "date": 12, "hours": 23, "utc": true}, "type": "temporal"}, "x2": {"datum": {"year": 2025, "month": 10, "date": 24, "hours": 20, "utc": true}}, "y": {"datum": 478, "type": "quantitative"}, "y2": {"datum": 497.3}}
    },
    {
      "data": {"values": [{}]},
      "mark": {"type": "text", "text": "USDT", "color": "#d1d4dc", "fontSize": 12, "fontWeight": "bold", "font": "Roboto", "align": "center", "baseline": "middle"},
      "encoding": {"x": {"datum": {"year": 2025, "month": 10, "date": 19, "hours": 16, "utc": true}, "type": "temporal"}, "y": {"datum": 487.4, "type": "quantitative"}}
    },
    {
      "data": {"values": [{}]},
      "mark": {"type": "rect", "fill": "#1f1f1f"},
      "encoding": {"x": {"datum": {"year": 2024, "month": 10, "date": 1, "utc": true}, "type": "temporal"}, "x2": {"datum": {"year": 2025, "month": 12, "date": 1, "utc": true}}, "y": {"datum": 499.7, "type": "quantitative"}, "y2": {"datum": 560}}
    },
    {
      "data": {"values": [{}]},
      "mark": {"type": "rect", "fill": "#1f1f1f"},
      "encoding": {"x": {"datum": {"year": 2024, "month": 10, "date": 1, "utc": true}, "type": "temporal"}, "x2": {"datum": {"year": 2025, "month": 12, "date": 1, "utc": true}}, "y": {"datum": -14.9, "type": "quantitative"}, "y2": {"datum": -90}}
    },
    {
      "data": {"values": [{}]},
      "mark": {"type": "rect", "fill": "#1f1f1f"},
      "encoding": {"x": {"datum": {"year": 2024, "month": 10, "date": 1, "utc": true}, "type": "temporal"}, "x2": {"datum": {"year": 2024, "month": 11, "date": 2, "hours": 4, "minutes": 34, "utc": true}}, "y": {"datum": -90, "type": "quantitative"}, "y2": {"datum": 560}}
    },
    {
      "data": {"values": [{}]},
      "mark": {"type": "rect", "fill": "#1f1f1f"},
      "encoding": {"x": {"datum": {"year": 2025, "month": 10, "date": 25, "hours": 15, "minutes": 36, "utc": true}, "type": "temporal"}, "x2": {"datum": {"year": 2025, "month": 12, "date": 1, "utc": true}}, "y": {"datum": -90, "type": "quantitative"}, "y2": {"datum": 560}}
    },
    {
      "data": {"values": [{}]},
      "mark": {"type": "rect", "fill": null, "stroke": "#2c2c2c", "strokeWidth": 1.5},
      "encoding": {"x": {"datum": {"year": 2024, "month": 11, "date": 2, "hours": 4, "minutes": 34, "utc": true}, "type": "temporal"}, "x2": {"datum": {"year": 2025, "month": 10, "date": 25, "hours": 15, "minutes": 36, "utc": true}}, "y": {"datum": -14.9, "type": "quantitative"}, "y2": {"datum": 499.7}}
    },
    {
      "data": {"values": [{}]},
      "mark": {"type": "text", "text": "IsaiAlexei creado con TradingView.com, el Sep 09, 2025 16:50 UTC-4", "color": "#d1d4dc", "fontSize": 13, "font": "Roboto", "align": "left", "baseline": "middle"},
      "encoding": {"x": {"datum": {"year": 2024, "month": 11, "date": 2, "utc": true}, "type": "temporal"}, "y": {"datum": 509.6, "type": "quantitative"}}
    },
    {
      "data": {"values": [{}]},
      "mark": {"type": "point", "shape": "M-0.99,-0.525L0.006,-0.525L0.006,0.52L-0.53,0.52L-0.53,-0.15L-0.99,-0.15ZM0.11,0.52L0.52,0.52L0.99,-0.525L0.58,-0.525ZM0.13,-0.35A0.17,0.17,0,1,0,0.47,-0.35A0.17,0.17,0,1,0,0.13,-0.35Z", "size": 1024, "filled": true, "fill": "#dedede", "strokeWidth": 0, "opacity": 1},
      "encoding": {"x": {"datum": {"year": 2024, "month": 11, "date": 5, "hours": 14, "minutes": 24, "utc": true}, "type": "temporal"}, "y": {"datum": -37.5, "type": "quantitative"}}
    },
    {
      "data": {"values": [{}]},
      "mark": {"type": "text", "text": "TradingView", "color": "#dedede", "fontSize": 22, "fontWeight": "bold", "font": "Inter", "align": "left", "baseline": "middle"},
      "encoding": {"x": {"datum": {"year": 2024, "month": 11, "date": 10, "hours": 17, "utc": true}, "type": "temporal"}, "y": {"datum": -38.6, "type": "quantitative"}}
    }
  ]
}
